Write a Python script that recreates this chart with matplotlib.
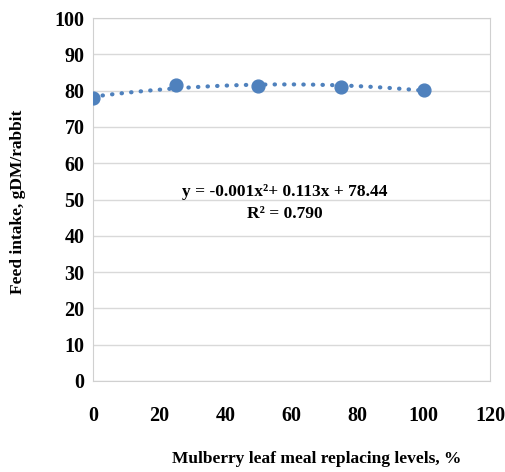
import numpy as np
import matplotlib.pyplot as plt

levels = [0, 25, 50, 75, 100]
intake = [77.9, 81.6, 81.3, 80.9, 80.3]
x_ticks = [0, 20, 40, 60, 80, 100, 120]
y_ticks = [0, 10, 20, 30, 40, 50, 60, 70, 80, 90, 100]

blue = '#4F81BD'
plt.rcParams['font.family'] = ['Liberation Serif', 'DejaVu Serif']
plt.rcParams['font.weight'] = 'bold'

fig = plt.figure(figsize=(5.05, 4.72), dpi=100)
ax = fig.add_axes([93 / 505, 91 / 472, 397 / 505, 363 / 472])

# polynomial trendline from the points
coef = np.polyfit(levels, intake, 2)
xs = np.linspace(0, 100, 200)
ax.plot(xs, np.polyval(coef, xs), color=blue, linestyle=(0, (0.1, 2.2)),
        linewidth=3.0, dash_capstyle='round', zorder=2)
ax.scatter(levels, intake, s=85, color=blue, zorder=3)

ax.set_xlim(0, 120)
ax.set_ylim(0, 100)
ax.set_xticks(x_ticks)
ax.set_yticks(y_ticks)
ax.tick_params(length=0, labelsize=14.5, pad=6)
ax.tick_params(axis='x', pad=18)
ax.grid(axis='y', color='#d9d9d9', linewidth=1)
ax.set_axisbelow(True)
for s in ax.spines.values():
    s.set_color('#d0d0d0')

ax.text(58, 52.2, 'y = -0.001x²+ 0.113x + 78.44', ha='center', va='center', fontsize=12.5)
ax.text(58, 46.0, 'R² = 0.790', ha='center', va='center', fontsize=12.5)

ax.set_xlabel('Mulberry leaf meal replacing levels, %', fontsize=12.5, fontweight='bold')
ax.xaxis.set_label_coords(0.564, -0.194)
ax.set_ylabel('Feed intake, gDM/rabbit', fontsize=12.5, fontweight='bold')
ax.yaxis.set_label_coords(-0.168, 0.493)

fig.savefig('out.png', dpi=100)
